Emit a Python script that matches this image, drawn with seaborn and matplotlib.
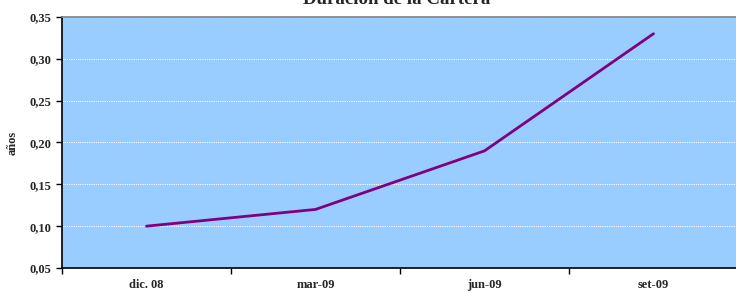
import matplotlib
matplotlib.use("Agg")
import matplotlib.pyplot as plt
import matplotlib.ticker as mticker
import seaborn as sns
import pandas as pd

periodos = ["dic. 08", "mar-09", "jun-09", "set-09"]
duracion = [0.10, 0.12, 0.19, 0.33]

sns.set_style("white")
plt.rcParams["font.family"] = ["Liberation Serif", "DejaVu Serif"]

df = pd.DataFrame({"periodo": periodos, "duracion": duracion})

fig = plt.figure(figsize=(7.36, 2.93), dpi=100)
ax = fig.add_axes([62 / 736, 25 / 293, 676 / 736, 251 / 293])
ax.set_facecolor("#99ccff")

sns.lineplot(data=df, x="periodo", y="duracion", color="#800080", linewidth=2.0, ax=ax)

ax.set_xlim(-0.5, len(periodos) - 0.5)
ax.set_ylim(0.05, 0.35)
ax.yaxis.set_major_locator(mticker.MultipleLocator(0.05))
ax.yaxis.set_major_formatter(mticker.FuncFormatter(lambda v, p: f"{v:.2f}".replace(".", ",")))
ax.grid(axis="y", color="white", linestyle=(0, (1, 1)), linewidth=0.8)
ax.set_axisbelow(True)

# ticks at category borders on x
ax.set_xticks(range(len(periodos)))
ax.set_xticklabels(periodos, fontweight="bold", fontsize=9)
ax.xaxis.set_minor_locator(mticker.FixedLocator([i + 0.5 for i in range(-1, len(periodos))]))
ax.tick_params(axis="x", which="major", length=0, pad=8)
ax.tick_params(axis="x", which="minor", length=4, width=1, color="black", direction="out", bottom=True)
ax.tick_params(axis="y", length=4, width=1, color="black", direction="out", left=True, labelsize=9)
for lbl in ax.get_yticklabels():
    lbl.set_fontweight("bold")

for side in ["left", "bottom"]:
    ax.spines[side].set_color("black")
    ax.spines[side].set_linewidth(1.2)
ax.spines["top"].set_color("#808080")
ax.spines["top"].set_linewidth(1.2)
ax.spines["right"].set_visible(False)

ax.set_xlabel("")
ax.set_ylabel("años", fontweight="bold", fontsize=9, labelpad=8)

fig.text(397 / 736, 289.5 / 293, "Duración de la Cartera", ha="center", va="baseline",
         fontsize=13.6, fontweight="bold")

fig.savefig("out.png", dpi=100)
